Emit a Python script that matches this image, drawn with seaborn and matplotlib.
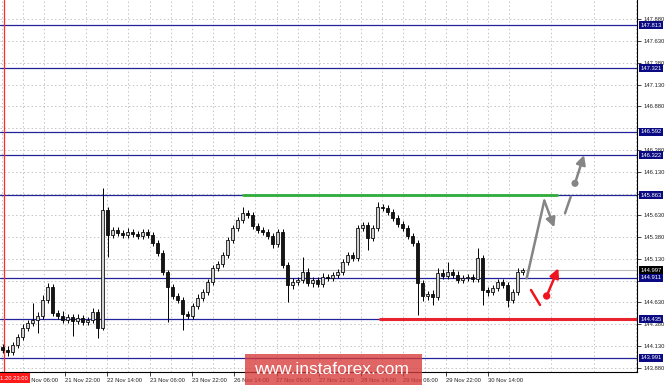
import numpy as np
import pandas as pd
import matplotlib
matplotlib.use("Agg")
import matplotlib.pyplot as plt
import matplotlib.transforms as mtransforms
from matplotlib.patches import Rectangle
import seaborn as sns

# ---------------- data ----------------
closes = [144.084, 144.061, 144.141, 144.233, 144.336, 144.394, 144.428, 144.474, 144.658, 144.807,
          144.508, 144.474, 144.428, 144.462, 144.416, 144.451, 144.405, 144.428, 144.520, 144.336,
          145.691, 145.404, 145.461, 145.427, 145.404, 145.438, 145.415, 145.392, 145.438, 145.404,
          145.312, 145.197, 144.979, 144.807, 144.704, 144.658, 144.497, 144.474, 144.589, 144.681,
          144.749, 144.864, 145.025, 145.071, 145.174, 145.346, 145.484, 145.576, 145.656, 145.633,
          145.507, 145.461, 145.438, 145.392, 145.300, 145.438, 145.059, 144.830, 144.864, 144.887,
          144.979, 144.853, 144.887, 144.841, 144.922, 144.910, 144.945, 144.979, 145.094, 145.174,
          145.140, 145.484, 145.519, 145.369, 145.484, 145.725, 145.714, 145.668, 145.599, 145.530,
          145.484, 145.392, 145.312, 144.853, 144.704, 144.727, 144.692, 144.968, 144.933, 144.979,
          144.945, 144.887, 144.910, 144.922, 144.899, 145.140, 144.772, 144.749, 144.795, 144.864,
          144.830, 144.658, 144.749, 144.979, 144.997]
first_open = 144.120
wick_up = [30, 40, 30, 35, 40, 30, 200, 45, 62, 45,
           30, 35, 60, 35, 30, 40, 30, 35, 50, 30,
           252, 40, 35, 40, 30, 45, 30, 35, 40, 30,
           35, 30, 30, 25, 30, 35, 30, 35, 30, 40,
           30, 35, 30, 35, 40, 30, 35, 30, 70, 40,
           30, 35, 30, 30, 35, 30, 30, 35, 40, 30,
           172, 40, 35, 30, 40, 35, 30, 35, 30, 40,
           35, 40, 35, 30, 40, 58, 35, 30, 30, 35,
           30, 30, 35, 30, 35, 30, 40, 60, 45, 115,
           35, 40, 30, 35, 30, 114, 30, 35, 40, 30,
           35, 30, 40, 40, 30]
wick_dn = [40, 50, 35, 40, 35, 30, 30, 150, 40, 35,
           40, 35, 40, 35, 172, 35, 40, 30, 35, 115,
           20, 253, 40, 35, 40, 35, 30, 35, 40, 35,
           40, 35, 40, 400, 35, 40, 184, 35, 40, 30,
           35, 30, 40, 35, 30, 40, 30, 35, 30, 35,
           30, 40, 35, 30, 40, 35, 40, 196, 45, 40,
           35, 40, 45, 40, 35, 40, 35, 40, 35, 30,
           40, 35, 40, 137, 35, 30, 35, 40, 30, 35,
           35, 30, 40, 368, 60, 50, 92, 40, 35, 30,
           40, 35, 40, 35, 40, 35, 172, 45, 40, 35,
           40, 81, 40, 35, 30]

level_lines = [147.813, 147.321, 146.592, 146.322, 145.863, 144.911, 144.435, 143.991]
current_price = 144.997
resistance = 145.863
support = 144.435
price_ticks = [147.880, 147.630, 147.380, 147.130, 146.880, 146.630, 146.380, 146.130,
               145.880, 145.630, 145.380, 145.130, 144.880, 144.630, 144.380, 144.130, 143.880]
hidden_ticks = [146.630, 145.880, 144.880]   # fully covered by the level boxes
time_labels = ["21 Nov 06:00", "21 Nov 22:00", "22 Nov 14:00", "23 Nov 06:00", "23 Nov 22:00",
               "26 Nov 14:00", "27 Nov 06:00", "27 Nov 22:00", "28 Nov 14:00", "29 Nov 06:00",
               "29 Nov 22:00", "30 Nov 14:00"]
cursor_label = "1.20 23:00"

# scenario drawings (bar index, price)
gray_path_x = [104.84, 108.36, 110.36]
gray_path_y = [144.906, 145.798, 145.492]
gray_dash_x = [112.5, 113.64]
gray_dash_y = [145.653, 145.843]
gray_dot = (114.5, 145.997)
gray_tip = (116.3, 146.322)
red_dash_x = [105.7, 107.5]
red_dash_y = [144.772, 144.600]
red_dot = (108.84, 144.703)
red_tip = (111.16, 145.021)

# ---------------- build table ----------------
idx = np.arange(len(closes))
opens = [first_open] + closes[:-1]
df = pd.DataFrame({"i": idx, "open": opens, "close": closes,
                   "up": np.array(wick_up) / 1000.0, "dn": np.array(wick_dn) / 1000.0})
df["high"] = df[["open", "close"]].max(axis=1) + df["up"]
df["low"] = df[["open", "close"]].min(axis=1) - df["dn"]
df["bull"] = df["close"] >= df["open"]

# ---------------- figure ----------------
sns.set_theme(style="white")
plt.rcParams["font.family"] = ["Liberation Sans", "DejaVu Sans"]

fig = plt.figure(figsize=(6.65, 3.85), dpi=100)
ax = fig.add_axes([0.0, 13 / 385, 637 / 665, 372 / 385])
ax.set_facecolor("white")

XMIN, XMAX = -0.5, 126.9
ax.set_xlim(XMIN, XMAX)
ax.set_ylim(143.830, 148.103)

LBL = 4.2
# grid
ax.set_yticks(price_ticks)
ax.set_yticklabels(["" if v in hidden_ticks else f"{v:.3f}" for v in price_ticks])
tick_step = 8.46
xt = [4.04 + k * tick_step for k in range(len(time_labels))]
ax.set_xticks(xt)
ax.set_xticklabels(time_labels, ha="left")
ax.set_xticks([4.04 - tick_step / 2 + k * tick_step for k in range(len(time_labels) + 4)], minor=True)
ax.grid(True, which="both", color="#c4c4c4", linestyle=(0, (1.5, 2.5)), linewidth=0.7)
ax.set_axisbelow(True)

ax.yaxis.tick_right()
ax.tick_params(axis="y", which="major", right=True, length=3, width=0.6, pad=1.5,
               labelsize=LBL, colors="#222222")
ax.tick_params(axis="x", which="major", bottom=True, length=3, width=0.6, pad=1.2,
               labelsize=LBL, colors="#222222")
ax.tick_params(axis="x", which="minor", bottom=False)
for s in ["top", "left"]:
    ax.spines[s].set_visible(False)
for s in ["right", "bottom"]:
    ax.spines[s].set_color("black")
    ax.spines[s].set_linewidth(0.8)

# horizontal levels
for lv in level_lines:
    ax.axhline(lv, color="#22229a", linewidth=0.9, zorder=2)
ax.axhline(current_price, color="#bdbdbd", linewidth=0.8, zorder=1.5)
ax.plot([48.1, 110.8], [resistance, resistance], color="#2fae3a", linewidth=2.0, zorder=3)
ax.plot([75.5, XMAX], [support, support], color="#e8232d", linewidth=2.2, zorder=3)

# cursor vertical line
ax.axvline(0.25, color="#ff2a2a", linewidth=0.9, zorder=4)

# candles
ax.vlines(df["i"], df["low"], df["high"], color="black", linewidth=0.7, zorder=5)
body_bottom = df[["open", "close"]].min(axis=1)
body_h = (df["close"] - df["open"]).abs().clip(lower=0.006)
ax.bar(df["i"], body_h, bottom=body_bottom, width=0.7,
       color=np.where(df["bull"], "#d0d0d0", "#151515"), edgecolor="black", linewidth=0.55, zorder=6)

# scenario drawings
gray = "#858585"
arrow_kw = dict(arrowstyle="-|>,head_length=0.55,head_width=0.28", lw=1.8,
                shrinkA=0, shrinkB=0, mutation_scale=10)
ax.plot(gray_path_x[:2], gray_path_y[:2], color=gray, linewidth=1.8, solid_capstyle="round", zorder=7)
ax.annotate("", xy=(gray_path_x[2], gray_path_y[2]), xytext=(gray_path_x[1], gray_path_y[1]),
            arrowprops=dict(color=gray, **arrow_kw), zorder=7)
ax.plot(gray_dash_x, gray_dash_y, color=gray, linewidth=1.8, zorder=7)
ax.annotate("", xy=gray_tip, xytext=gray_dot,
            arrowprops=dict(color=gray, **arrow_kw), zorder=7)
sns.scatterplot(x=[gray_dot[0]], y=[gray_dot[1]], color=gray, s=26, edgecolor="none", ax=ax, zorder=8)

red = "#f0141e"
ax.plot(red_dash_x, red_dash_y, color=red, linewidth=1.8, zorder=7)
ax.annotate("", xy=red_tip, xytext=red_dot,
            arrowprops=dict(color=red, **arrow_kw), zorder=7)
sns.scatterplot(x=[red_dot[0]], y=[red_dot[1]], color=red, s=28, edgecolor="none", ax=ax, zorder=8)

# price boxes on the right axis
trans = mtransforms.blended_transform_factory(ax.transAxes, ax.transData)
for lv in level_lines:
    ax.text(1.0055, lv, f"{lv:.3f}", transform=trans, ha="left", va="center", fontsize=LBL,
            color="white", zorder=20, clip_on=False,
            bbox=dict(boxstyle="square,pad=0.25", fc="#0a0a82", ec="none"))
ax.text(1.0055, current_price, f"{current_price:.3f}", transform=trans, ha="left", va="center",
        fontsize=LBL, color="white", zorder=21, clip_on=False,
        bbox=dict(boxstyle="square,pad=0.25", fc="#000000", ec="none"))

# cursor time label
fig.text(0.0, 1 - 378 / 385, cursor_label, ha="left", va="center", fontsize=LBL, color="white",
         zorder=20, bbox=dict(boxstyle="square,pad=0.35", fc="#ff1a1a", ec="none"))

# watermark
fig.patches.append(Rectangle((245 / 665, 0), 177 / 665, 31 / 385, transform=fig.transFigure,
                             facecolor="#d83a3a", alpha=0.78, edgecolor="none", zorder=30))
fig.text(331 / 665, 1 - 370 / 385, "www.instaforex.com", ha="center", va="center",
         fontsize=12.5, color="white", zorder=31)

fig.savefig("out.png", dpi=100)
